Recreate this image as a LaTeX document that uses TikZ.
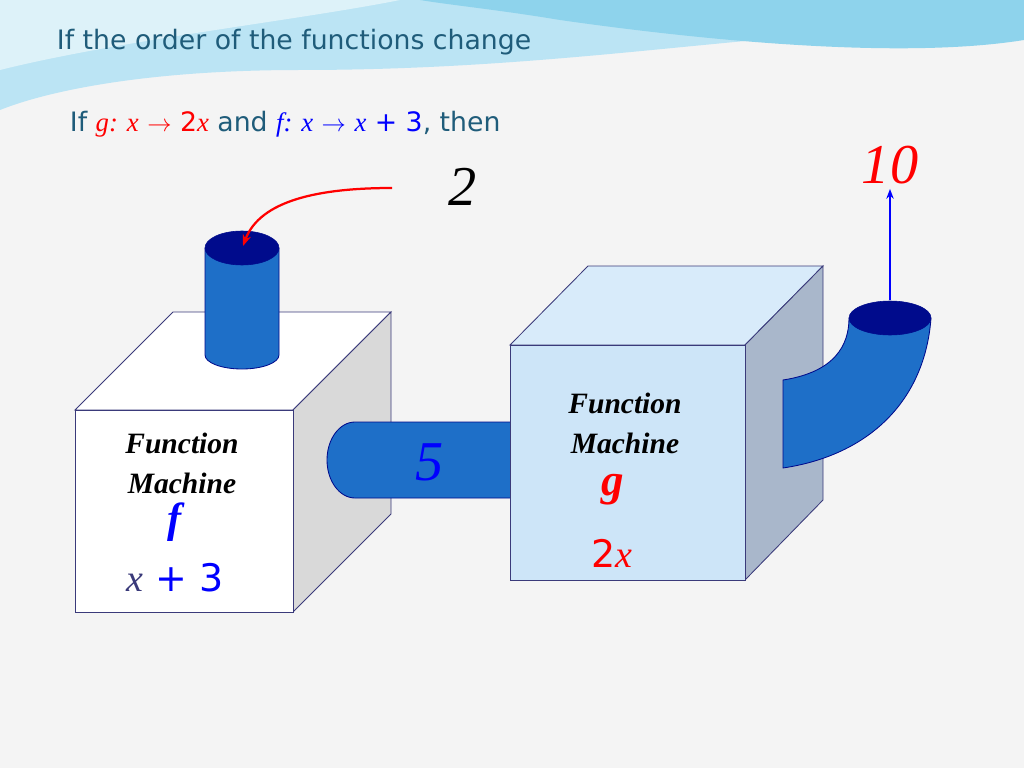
\documentclass[tikz,border=0pt]{standalone}
\usepackage{fontspec}
\setmainfont{Liberation Serif}
\newfontfamily\comic{DejaVu Sans}
\usetikzlibrary{arrows.meta}
\definecolor{slidebg}{HTML}{F4F4F4}
\definecolor{titleblue}{HTML}{1F5C7A}
\definecolor{pipeblue}{HTML}{1E6FC8}
\definecolor{pipetop}{HTML}{000B8C}
\definecolor{boxedge}{HTML}{3A3A7A}
\definecolor{gfront}{HTML}{CDE5F8}
\definecolor{gtop}{HTML}{D8EBFA}
\definecolor{gside}{HTML}{A9B7CB}
\definecolor{wave}{HTML}{8ED3EC}
\tikzset{
  face/.style={draw=boxedge,line width=0.6pt},
  pipe/.style={fill=pipeblue,draw=pipetop,line width=0.6pt},
  label/.style={font=\fontsize{21}{23}\selectfont\bfseries\itshape},
}
\begin{document}
\begin{tikzpicture}[x=0.025cm,y=-0.025cm]
\fill[slidebg] (0,0) rectangle (1024,768);
\useasboundingbox (0,0) rectangle (1024,768);
% top wave
\fill[wave!60] (0,0) -- (1024,0) -- (1024,30) .. controls (800,20) and (600,70) .. (300,70)
  .. controls (150,70) and (50,90) .. (0,110) -- cycle;
\fill[wave] (420,0) -- (1024,0) -- (1024,40) .. controls (900,60) and (700,40) .. (560,20)
  .. controls (500,10) and (450,5) .. (420,0) -- cycle;
\fill[white!70!wave] (0,0) -- (400,0) .. controls (300,20) and (120,40) .. (0,70) -- cycle;
\node[font=\comic\fontsize{19}{21}\selectfont,text=titleblue,anchor=west] (title) at (52,42) {If the order of the functions change};
\node[font=\comic\fontsize{19}{21}\selectfont,text=titleblue,anchor=west] (rule) at (65,124)
  {If \textcolor{red}{\textrm{\itshape g: x} $\rightarrow$ 2\textrm{\itshape x}} and
   \textcolor{blue}{\textrm{\itshape f: x} $\rightarrow$ \textrm{\itshape x} + 3}, then};
% machine f
\filldraw[face,fill=white] (75,410) -- (173,312) -- (391,312) -- (293,410) -- cycle;
\filldraw[face,fill=gray!30] (293,410) -- (391,312) -- (391,514) -- (293,612) -- cycle;
\filldraw[face,fill=white] (75,410) rectangle (293,612);
% input cylinder
\filldraw[pipe] (205,248) -- (205,355) arc[start angle=180,end angle=0,x radius=37,y radius=14] -- (279,248) -- cycle;
\filldraw[fill=pipetop,draw=pipetop] (242,248) ellipse[x radius=37,y radius=17];
% connecting pipe
\filldraw[pipe] (355,422) -- (520,422) -- (520,498) -- (355,498) arc[start angle=90,end angle=270,x radius=28,y radius=38] -- cycle;
% machine g
\filldraw[face,fill=gtop] (510,345) -- (588,266) -- (823,266) -- (745,345) -- cycle;
\filldraw[face,fill=gside] (745,345) -- (823,266) -- (823,500) -- (745,580) -- cycle;
\filldraw[face,fill=gfront] (510,345) rectangle (745,580);
% output elbow
\filldraw[pipe] (783,380) .. controls (835,372) and (849,345) .. (849,318) -- (931,318)
  .. controls (925,400) and (870,455) .. (783,468) -- cycle;
\filldraw[fill=pipetop,draw=pipetop] (890,318) ellipse[x radius=41,y radius=17];
% numbers and arrows
\node[font=\fontsize{40}{42}\selectfont\itshape] (two) at (463,187) {2};
\node[font=\fontsize{40}{42}\selectfont\itshape,text=blue] (five) at (430,462) {5};
\node[font=\fontsize{40}{42}\selectfont\itshape,text=red] (ten) at (890,165) {10};
\coordinate (inlet) at (243,246);
\coordinate (outlet) at (890,300);
\draw[red,line width=1.6pt,-{Stealth[length=8pt]}] (392,188) .. controls (320,188) and (260,200) .. (inlet);
\draw[blue,line width=1.2pt,-{Stealth[length=7pt]}] (outlet) -- (ten.south);
% texts on machines
\node[label] (ffun) at (182,443) {Function};
\node[label] (fmac) at (182,483) {Machine};
\node[font=\fontsize{30}{32}\selectfont\bfseries\itshape,text=blue] (fname) at (175,522) {f};
\node[font=\fontsize{27}{29}\selectfont,text=blue] (frule) at (175,578) {\textcolor{boxedge}{\itshape x}\comic{} + 3};
\node[label] (gfun) at (625,403) {Function};
\node[label] (gmac) at (625,443) {Machine};
\node[font=\fontsize{32}{34}\selectfont\bfseries\itshape,text=red] (gname) at (613,490) {g};
\node[font=\fontsize{27}{29}\selectfont,text=red] (grule) at (612,553) {\comic 2\textrm{\itshape x}};
\end{tikzpicture}
\end{document}
